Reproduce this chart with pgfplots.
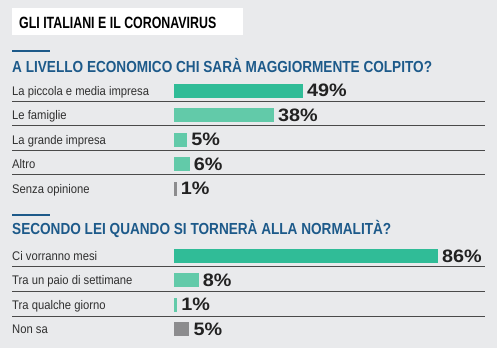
\documentclass[border=0pt]{standalone}
\usepackage{pgfplots}
\pgfplotsset{compat=1.18}
\usepackage{fontspec}
\setmainfont{Liberation Sans}
\newfontfamily\catfont[FakeStretch=0.9]{Liberation Sans}
\newfontfamily\headfont[FakeStretch=0.85]{Liberation Sans}
\newfontfamily\titlefont[FakeStretch=0.76]{Liberation Sans}
\newfontfamily\valfont[FakeStretch=1.1]{Liberation Sans}
\definecolor{bg}{HTML}{E9EAEC}
\definecolor{tealD}{HTML}{30BC97}
\definecolor{tealL}{HTML}{62CAA9}
\definecolor{grayb}{HTML}{8C8C8E}
\definecolor{hblue}{HTML}{1D5A8A}
\definecolor{sep}{HTML}{4A4A4A}
\definecolor{cattext}{HTML}{303030}
\definecolor{valtext}{HTML}{222222}
\pgfplotsset{barax/.style={scale only axis, hide axis, xbar, bar shift=0pt, bar width=14pt,
  xmin=0, xmax=100, y dir=reverse, clip=false, anchor=north west,
  /pgf/number format/assume math mode=true,
  nodes near coords={\pgfmathprintnumber{\pgfplotspointmeta}\%},
  nodes near coords style={font=\valfont\fontsize{18}{18}\selectfont\bfseries, text=valtext, anchor=west, inner sep=0pt, xshift=4pt}}}
\begin{document}
\begin{tikzpicture}
\fill[bg] (0pt,0pt) rectangle (497pt,-348pt);
% title box
\fill[white] (12pt,-8pt) rectangle (243pt,-35pt);
\node[anchor=base west, inner sep=0pt, text=black] at (19pt,-28pt) {\titlefont\bfseries\fontsize{16.3}{16.3}\selectfont GLI ITALIANI E IL CORONAVIRUS};
% section 1 heading
\draw[hblue, line width=2pt] (12pt,-51pt) -- (50pt,-51pt);
\node[anchor=base west, inner sep=0pt, text=hblue] at (12pt,-72pt) {\headfont\bfseries\fontsize{16}{16}\selectfont A LIVELLO ECONOMICO CHI SARÀ MAGGIORMENTE COLPITO?};
% section 1 category labels
\foreach \lab [count=\i from 0] in {La piccola e media impresa, Le famiglie, La grande impresa, Altro, Senza opinione}{
  \node[anchor=base west, inner sep=0pt, text=cattext] at (12pt,{-(95+24.5*\i)*1pt}) {\catfont\fontsize{12.5}{13}\selectfont \lab};
}
\foreach \yy in {101,125.5,150,174.5}{
  \draw[sep, line width=0.9pt] (12pt,-\yy pt) -- (485pt,-\yy pt);
}
\begin{axis}[barax, at={(174pt,-78.25pt)}, width=263pt, height=122.5pt, ymin=-0.5, ymax=4.5]
\addplot[fill=tealD, draw=none] coordinates {(49,0)};
\addplot[fill=tealL, draw=none] coordinates {(38,1)};
\addplot[fill=tealL, draw=none] coordinates {(5,2)};
\addplot[fill=tealL, draw=none] coordinates {(6,3)};
\addplot[fill=grayb, draw=none] coordinates {(1,4)};
\end{axis}
% section 2 heading
\draw[hblue, line width=2pt] (12pt,-215pt) -- (50pt,-215pt);
\node[anchor=base west, inner sep=0pt, text=hblue] at (12pt,-234.5pt) {\headfont\bfseries\fontsize{16}{16}\selectfont SECONDO LEI QUANDO SI TORNERÀ ALLA NORMALITÀ?};
\foreach \lab [count=\i from 0] in {Ci vorranno mesi, Tra un paio di settimane, Tra qualche giorno, Non sa}{
  \node[anchor=base west, inner sep=0pt, text=cattext] at (12pt,{-(260.5+24.4*\i)*1pt}) {\catfont\fontsize{12.5}{13}\selectfont \lab};
}
\foreach \yy in {266,291,316}{
  \draw[sep, line width=0.9pt] (12pt,-\yy pt) -- (485pt,-\yy pt);
}
\begin{axis}[barax, at={(174pt,-243.8pt)}, width=307pt, height=97.6pt, ymin=-0.5, ymax=3.5]
\addplot[fill=tealD, draw=none] coordinates {(86,0)};
\addplot[fill=tealL, draw=none] coordinates {(8,1)};
\addplot[fill=tealL, draw=none] coordinates {(1,2)};
\addplot[fill=grayb, draw=none] coordinates {(5,3)};
\end{axis}
\end{tikzpicture}
\end{document}
